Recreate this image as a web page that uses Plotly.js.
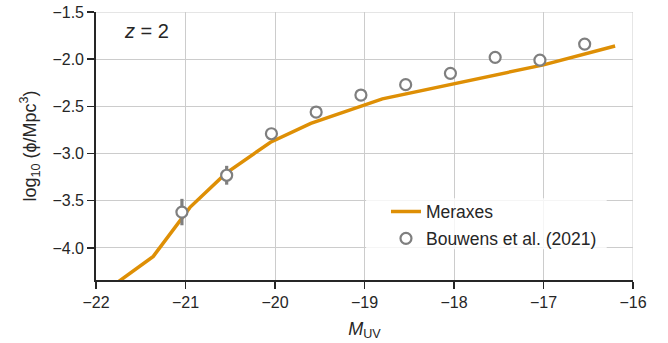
<!DOCTYPE html>
<html><head><meta charset="utf-8">
<script src="https://cdn.plot.ly/plotly-3.0.1.min.js"></script>
<style>body{margin:0;background:#fff}#c{width:668px;height:343px}</style>
</head><body><div id="c"></div>
<script>
// Meraxes model line
const meraxesM = [-22.0, -21.36, -20.95, -20.55, -20.05, -19.6, -18.8, -18.0, -17.5, -17.0, -16.2];
const meraxesPhi = [-4.53, -4.09, -3.57, -3.21, -2.88, -2.68, -2.42, -2.26, -2.16, -2.06, -1.86];
// Bouwens et al. (2021) observations
const obsM = [-21.04, -20.54, -20.04, -19.54, -19.04, -18.54, -18.04, -17.54, -17.04, -16.54];
const obsPhi = [-3.62, -3.23, -2.79, -2.56, -2.38, -2.27, -2.15, -1.98, -2.01, -1.84];
const obsErr = [0.14, 0.10, 0.04, 0.03, 0.03, 0.03, 0.03, 0.03, 0.05, 0.06];
const xTicks = [-22, -21, -20, -19, -18, -17, -16];
const yTicks = [-4.0, -3.5, -3.0, -2.5, -2.0, -1.5];

const font = 'Liberation Sans, Arial, sans-serif';
const ink = '#262626';
const traces = [
  {x: meraxesM, y: meraxesPhi, mode: 'lines', name: 'Meraxes', legendgroup: 'a',
   line: {color: '#DE8F05', width: 3.5}},
  {x: obsM, y: obsPhi, mode: 'markers', name: 'Bouwens et al. (2021)', legendgroup: 'b',
   error_y: {type: 'data', array: obsErr, visible: true, color: '#7f7f7f', thickness: 3.2, width: 0},
   marker: {symbol: 'circle', size: 11, color: 'white', line: {color: '#7f7f7f', width: 2.2}}}
];
const axisCommon = {
  showgrid: true, gridcolor: '#cccccc', gridwidth: 1,
  showline: true, linecolor: ink, linewidth: 1.8,
  ticks: 'outside', ticklen: 7, tickwidth: 1.5, tickcolor: ink,
  zeroline: false, tickfont: {size: 16, color: ink}
};
const layout = {
  width: 668, height: 343,
  margin: {l: 96, r: 35, t: 12, b: 63},
  paper_bgcolor: 'white', plot_bgcolor: 'white',
  font: {family: font, size: 16, color: ink},
  showlegend: true,
  legend: {x: 0.54, y: 0.322, xanchor: 'left', yanchor: 'top',
    bgcolor: 'rgba(0,0,0,0)', borderwidth: 0, font: {size: 17.5, color: ink},
    tracegroupgap: 1},
  xaxis: Object.assign({}, axisCommon, {range: [-22, -16], tickvals: xTicks,
    ticktext: xTicks.map(v => '\u2212' + Math.abs(v)),
    title: {text: '<i>M</i><sub>UV</sub>', font: {size: 18, color: ink}, standoff: 12}}),
  yaxis: Object.assign({}, axisCommon, {range: [-4.34, -1.5], tickvals: yTicks,
    ticktext: yTicks.map(v => '\u2212' + Math.abs(v).toFixed(1)),
    title: {text: 'log<sub>10</sub> (\u03d5/Mpc<sup>3</sup>)', font: {size: 18, color: ink}, standoff: 11}}),
  shapes: [
    {type: 'line', xref: 'x', yref: 'paper', x0: -16, x1: -16, y0: 0, y1: 1, layer: 'between', line: {color: '#cccccc', width: 1}},
    {type: 'line', xref: 'paper', yref: 'y', x0: 0, x1: 1, y0: -1.5, y1: -1.5, layer: 'between', line: {color: '#cccccc', width: 1}},
    {type: 'rect', xref: 'paper', yref: 'paper', x0: 0.503, x1: 0.951, y0: 0.115, y1: 0.305,
     layer: 'above', fillcolor: 'rgba(255,255,255,0.8)', line: {width: 0}}
  ],
  annotations: [{xref: 'paper', yref: 'paper', x: 0.049, y: 0.93, xanchor: 'left', yanchor: 'middle',
    text: '<i>z</i> = 2', showarrow: false, font: {size: 20, color: ink}}]
};
Plotly.newPlot('c', traces, layout, {displayModeBar: false, staticPlot: true});
</script></body></html>
